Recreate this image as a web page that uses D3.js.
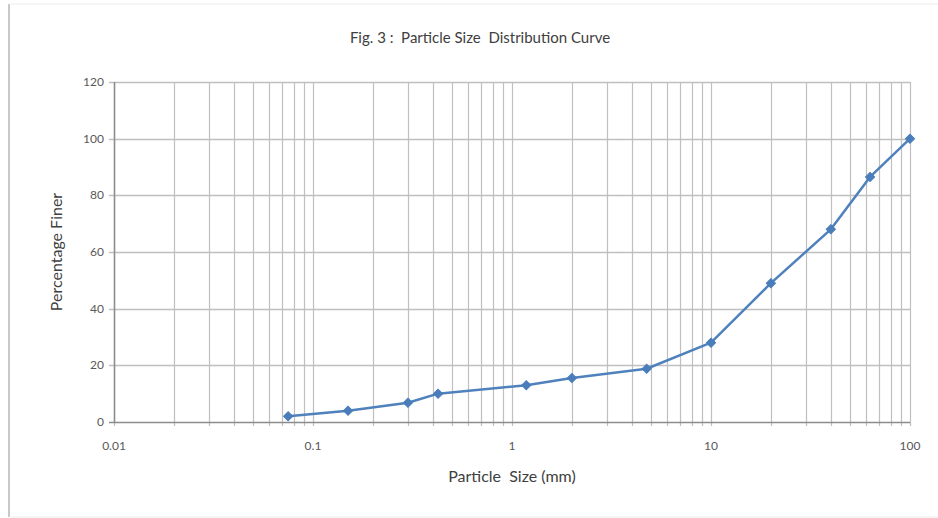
<!DOCTYPE html>
<html>
<head>
<meta charset="utf-8">
<script src="https://cdn.jsdelivr.net/npm/d3@7"></script>
<style>
	body { margin:0; background:#fff; }
	svg text { font-family: Lato, "Open Sans", sans-serif; white-space: pre; }
</style>
</head>
<body>
<div id="chart"></div>
<script>
	// sieve sizes (mm) and percent finer
	var sizes   = [0.075, 0.15, 0.3, 0.425, 1.18, 2, 4.75, 10, 20, 40, 63, 100];
	var finer   = [2, 4, 6.8, 10, 13, 15.5, 18.8, 28, 49, 68, 86.5, 100];
	var xTicks  = [0.01, 0.1, 1, 10, 100];
	var yTicks  = [0, 20, 40, 60, 80, 100, 120];

	var W = 938, H = 518;
	var plotLeft = 114, plotRight = 910, plotTop = 82, plotBottom = 422;

	var svg = d3.select('#chart').append('svg')
		.attr('width', W)
		.attr('height', H);

	// frame of the picture
	svg.append('line').attr('x1', 9).attr('x2', 9).attr('y1', 4).attr('y2', 517)
		.attr('stroke', '#c8c8c8').attr('stroke-width', 2);
	svg.append('line').attr('x1', 9).attr('x2', W).attr('y1', 4).attr('y2', 4)
		.attr('stroke', '#ececec').attr('stroke-width', 1);
	svg.append('line').attr('x1', 9).attr('x2', W).attr('y1', 517).attr('y2', 517)
		.attr('stroke', '#ececec').attr('stroke-width', 1);

	var x = d3.scaleLog().domain([0.01, 100]).range([plotLeft, plotRight]);
	var y = d3.scaleLinear().domain([0, 120]).range([plotBottom, plotTop]);

	// minor + major vertical grid
	var vlines = [];
	for (var d = 0.01; d < 99; d *= 10) {
		for (var k = 1; k <= 9; k++) vlines.push(+(d * k).toPrecision(3));
	}
	vlines.push(100);

	var grid = svg.append('g');
	grid.selectAll('.vg').data(vlines).enter().append('line')
		.attr('x1', function(v){ return Math.round(x(v)) + 0.5; })
		.attr('x2', function(v){ return Math.round(x(v)) + 0.5; })
		.attr('y1', plotTop).attr('y2', plotBottom + 4)
		.attr('stroke', '#bfbfbf').attr('stroke-width', 1.2);

	grid.selectAll('.hg').data(yTicks).enter().append('line')
		.attr('x1', plotLeft - 5).attr('x2', plotRight)
		.attr('y1', function(v){ return Math.round(y(v)) + 0.5; })
		.attr('y2', function(v){ return Math.round(y(v)) + 0.5; })
		.attr('stroke', function(v){ return v == 0 ? '#8c8c8c' : '#bfbfbf'; })
		.attr('stroke-width', 1.5);

	// y axis line
	grid.append('line').attr('x1', plotLeft + 0.5).attr('x2', plotLeft + 0.5)
		.attr('y1', plotTop).attr('y2', plotBottom)
		.attr('stroke', '#8c8c8c').attr('stroke-width', 1.5);

	// tick labels
	grid.selectAll('.yl').data(yTicks).enter().append('text')
		.attr('x', plotLeft - 10)
		.attr('y', function(v){ return y(v) + 4; })
		.attr('text-anchor', 'end')
		.attr('font-size', '12px')
		.attr('fill', '#595959')
		.text(function(v){ return v; });

	grid.selectAll('.xl').data(xTicks).enter().append('text')
		.attr('x', function(v){ return x(v); })
		.attr('y', plotBottom + 28)
		.attr('text-anchor', 'middle')
		.attr('font-size', '12px')
		.attr('fill', '#595959')
		.text(function(v){ return v; });

	// titles
	svg.append('text').attr('x', 480).attr('y', 43)
		.attr('text-anchor', 'middle').attr('font-size', '15px').attr('fill', '#404040')
		.text('Fig. 3 :  Particle Size  Distribution Curve');
	svg.append('text').attr('x', 512).attr('y', 482)
		.attr('text-anchor', 'middle').attr('font-size', '16px').attr('fill', '#404040')
		.text('Particle  Size (mm)');
	svg.append('text')
		.attr('transform', 'translate(62,252) rotate(-90)')
		.attr('text-anchor', 'middle').attr('font-size', '16px').attr('fill', '#404040')
		.text('Percentage Finer');

	// curve
	var pts = sizes.map(function(s, i){ return [s, finer[i]]; });
	var line = d3.line()
		.x(function(p){ return x(p[0]); })
		.y(function(p){ return y(p[1]); });

	svg.append('path').datum(pts)
		.attr('d', line)
		.attr('fill', 'none')
		.attr('stroke', '#4f81bd')
		.attr('stroke-width', 2.5)
		.attr('stroke-linejoin', 'round');

	svg.selectAll('.pt').data(pts).enter().append('path')
		.attr('d', d3.symbol().type(d3.symbolSquare).size(42))
		.attr('transform', function(p){ return 'translate(' + x(p[0]) + ',' + y(p[1]) + ') rotate(45)'; })
		.attr('fill', '#4a7ebb')
		.attr('stroke', '#4a7ebb')
		.attr('stroke-width', 1);
</script>
</body>
</html>
